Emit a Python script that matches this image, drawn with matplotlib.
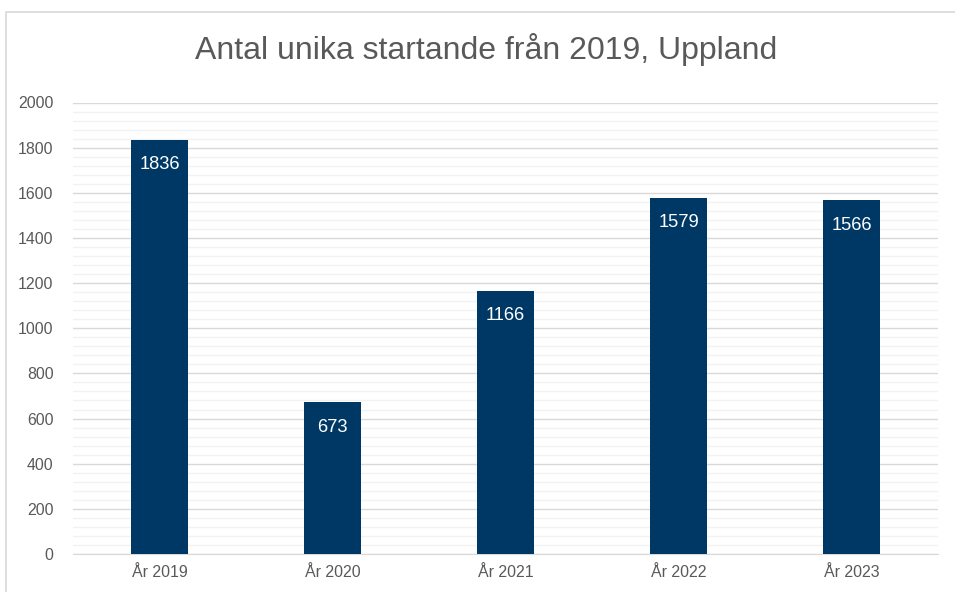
import matplotlib
matplotlib.use("Agg")
import matplotlib.pyplot as plt
from matplotlib.patches import Rectangle

categories = ["År 2019", "År 2020", "År 2021", "År 2022", "År 2023"]
values = [1836, 673, 1166, 1579, 1566]
yticks = [0, 200, 400, 600, 800, 1000, 1200, 1400, 1600, 1800, 2000]
title = "Antal unika startande från 2019, Uppland"

plt.rcParams['font.family'] = ['Liberation Sans', 'DejaVu Sans']

W, H = 955, 592
fig = plt.figure(figsize=(W/100, H/100), dpi=100)
ax = fig.add_axes([73/W, 1-554/H, (938-73)/W, (554-102.5)/H])

# chart border
fig.patches.append(Rectangle((5.5/W, -0.1), 1.2, (H-12)/H + 0.1, transform=fig.transFigure,
                             fill=False, edgecolor='#d9d9d9', linewidth=1.2))

x = list(range(len(categories)))
bars = ax.bar(x, values, width=0.335, color='#003865', zorder=3)
for xi, v in zip(x, values):
    ax.annotate(str(v), (xi, v), xytext=(0, -25), textcoords='offset pixels',
                ha='center', va='center', color='white', fontsize=13.2, zorder=4)

ax.set_xlim(-0.5, len(categories) - 0.5)
ax.set_ylim(0, 2000)
ax.set_yticks(yticks)
ax.set_yticklabels([str(t) for t in yticks])
ax.set_yticks(range(0, 2001, 40), minor=True)
ax.set_xticks(x)
ax.set_xticklabels(categories)
ax.grid(axis='y', which='major', color='#d9d9d9', linewidth=1.0, zorder=1)
ax.grid(axis='y', which='minor', color='#f2f2f2', linewidth=1.0, zorder=0)
ax.tick_params(axis='both', which='both', length=0, colors='#595959', labelsize=11.4)
ax.tick_params(axis='y', pad=14)
ax.tick_params(axis='x', pad=8)
for s in ['top', 'right', 'left']:
    ax.spines[s].set_visible(False)
ax.spines['bottom'].set_color('#d9d9d9')
ax.spines['bottom'].set_zorder(2)

fig.text(486/W, 1-50/H, title, ha='center', va='center', fontsize=23, color='#595959')

fig.savefig('out.png', dpi=100)
